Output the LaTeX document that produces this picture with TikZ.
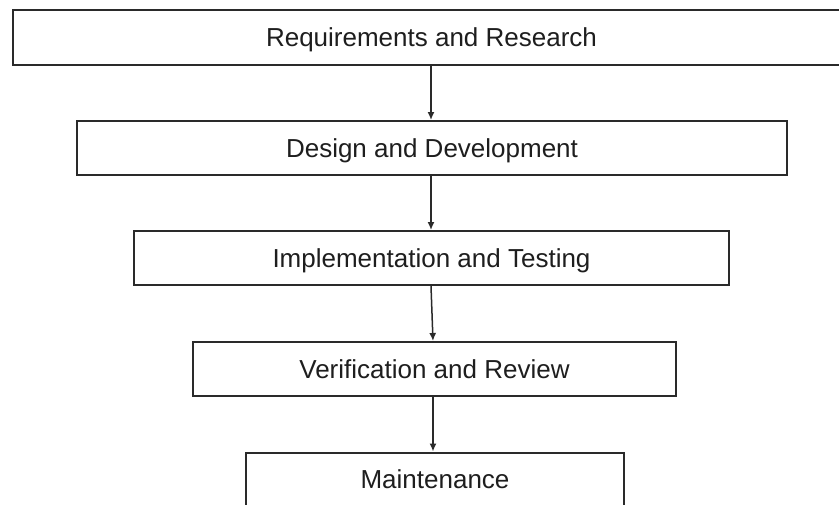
\documentclass[tikz,border=0pt]{standalone}
\usepackage{fontspec}
\setmainfont{Liberation Sans}
\usetikzlibrary{arrows.meta}
\definecolor{linegray}{HTML}{2A2A2A}
\definecolor{textgray}{HTML}{1E1E1E}
\tikzset{
  stagebox/.style={draw=linegray, line width=2pt, fill=white, inner sep=0pt,
    minimum height=54pt, text height=18.6pt, text depth=0pt,
    text=textgray, font=\fontsize{26}{30}\selectfont},
  flowarrow/.style={draw=linegray, line width=1.5pt,
    -{Latex[length=8pt,width=7pt]}}
}
\begin{document}
\begin{tikzpicture}[x=1pt,y=-1pt]
\useasboundingbox (0,0) rectangle (839,504);
\clip (0,0) rectangle (839,504);
\fill[white] (0,0) rectangle (839,504);
\node[stagebox, minimum width=837pt, minimum height=55pt] (n1) at (431.5,37) {Requirements and Research};
\node[stagebox, minimum width=710pt] (n2) at (432,148) {Design and Development};
\node[stagebox, minimum width=595pt] (n3) at (431.5,258) {Implementation and Testing};
\node[stagebox, minimum width=483pt] (n4) at (434.5,369) {Verification and Review};
\node[stagebox, minimum width=378pt] (n5) at (435,479.5) {Maintenance};
\draw[flowarrow] ([xshift=-0.5pt]n1.south) -- ([xshift=-1pt]n2.north);
\draw[flowarrow] ([xshift=-1pt]n2.south) -- ([xshift=-0.5pt]n3.north);
\draw[flowarrow] ([xshift=-0.5pt]n3.south) -- ([xshift=-1.5pt]n4.north);
\draw[flowarrow] ([xshift=-1.5pt]n4.south) -- ([xshift=-2pt]n5.north);
\end{tikzpicture}
\end{document}
